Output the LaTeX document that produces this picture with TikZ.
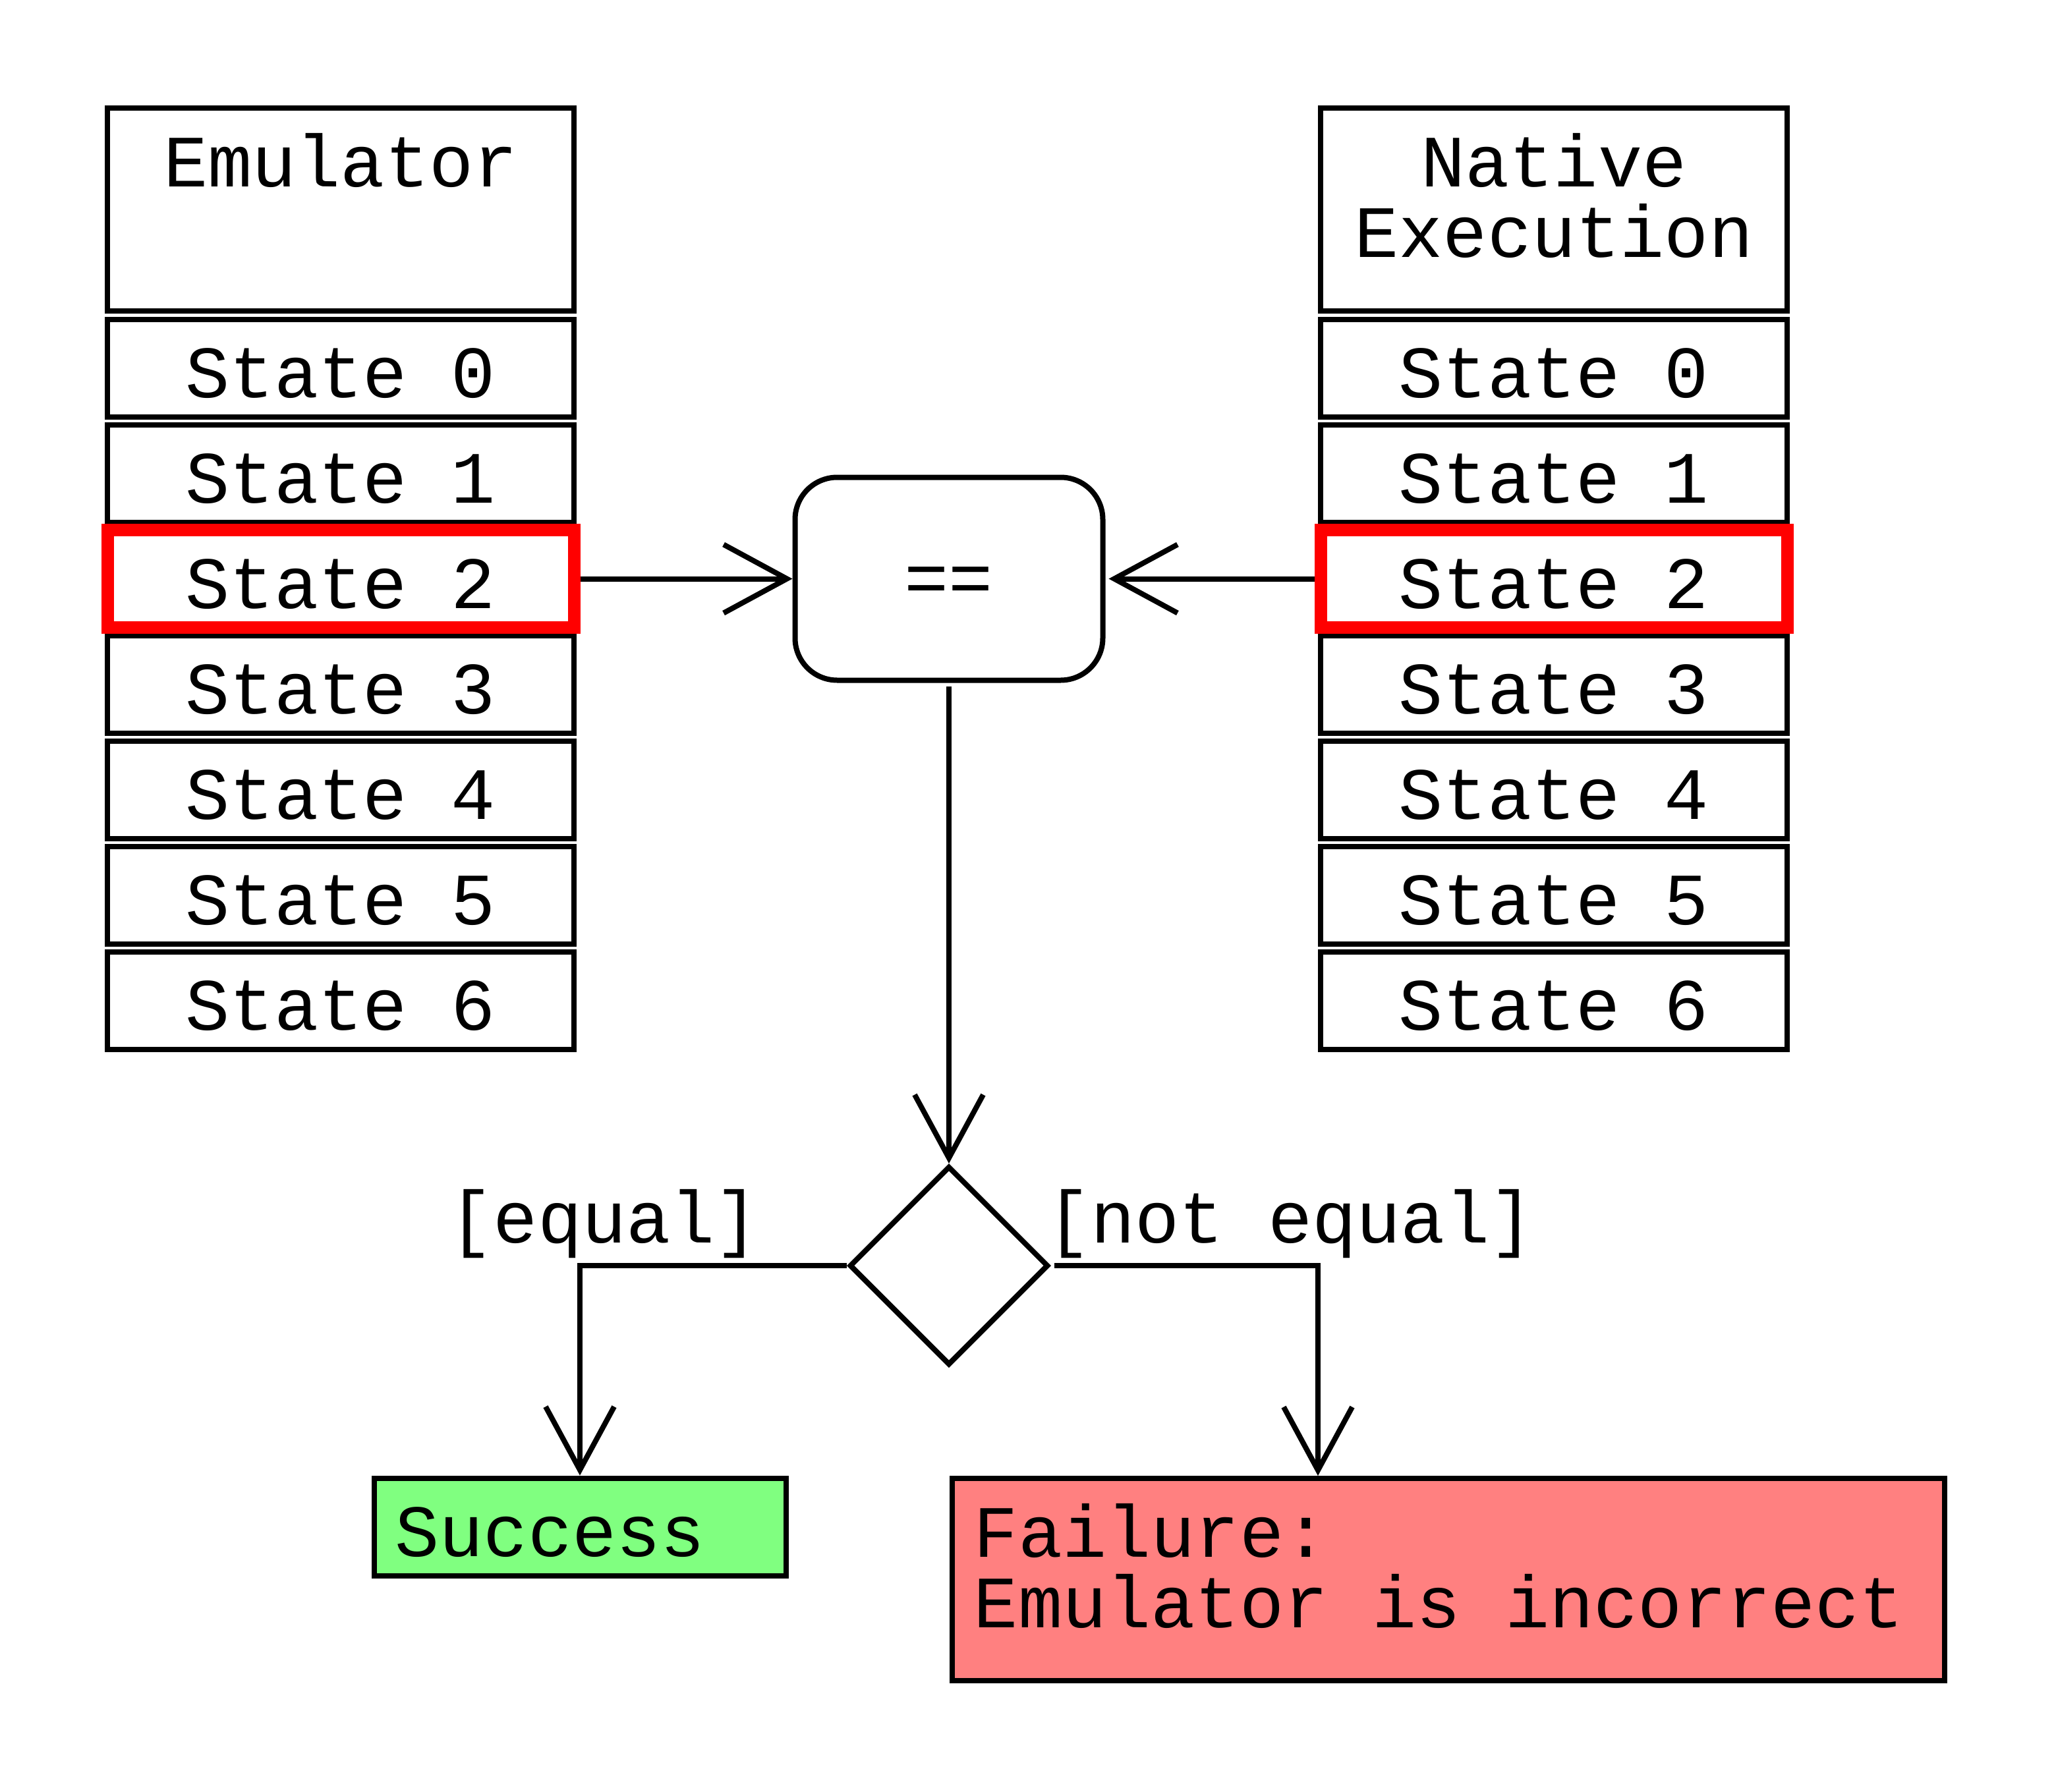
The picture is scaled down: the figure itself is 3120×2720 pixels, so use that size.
\documentclass[tikz,border=0pt]{standalone}
\usepackage{fontspec}
\newfontfamily\monofam{Liberation Mono}
\usetikzlibrary{arrows.meta,shapes.geometric,calc}
\definecolor{succgreen}{HTML}{80FF80}
\definecolor{failred}{HTML}{FF8080}
\begin{document}
\begin{tikzpicture}[x=0.25pt,y=-0.25pt,
  every node/.style={font=\monofam\fontsize{28pt}{26.75pt}\selectfont},
  bx/.style={draw, line width=2pt, fill=white, inner sep=0pt},
  statebox/.style={bx, minimum width=177pt, minimum height=37pt, text height=22.5pt, text depth=0pt},
  hot/.style={draw=red, line width=4.75pt},
  titlebox/.style={bx, minimum width=177pt, minimum height=77pt},
  txt/.style={inner sep=0pt, align=center},
  arr/.style={line width=2pt, -{Straight Barb[length=24pt,width=26pt,sharp]}},
]
\useasboundingbox (0,0) rectangle (3120,2720);

% Emulator column
\node[titlebox] (emu) at (517,318.25) {};
\node[txt, anchor=north] (emut) at ($(emu.north)+(0,33)$) {\rule{0pt}{22.4pt}Emulator};
\foreach \i in {0,1,3,4,5,6}
  \node[statebox] (emu\i) at (517,{558.5+160*\i}) {State \i};
\node[statebox, hot] (emu2) at (517,878.5) {State 2};

% Native column
\node[titlebox] (nat) at (2358,318.25) {};
\node[txt, anchor=north] (natt) at ($(nat.north)+(0,33)$) {\rule{0pt}{22.4pt}Native\\Execution};
\foreach \i in {0,1,3,4,5,6}
  \node[statebox] (nat\i) at (2358,{558.5+160*\i}) {State \i};
\node[statebox, hot] (nat2) at (2358,878.5) {State 2};

% comparison
\node[bx, rounded corners=16pt, minimum width=116.75pt, minimum height=77pt, text height=18.6pt, text depth=0pt] (eq) at (1440,878.5) {==};

% decision
\node[draw, line width=2pt, fill=white, diamond, aspect=1, minimum size=75.5pt, inner sep=0pt] (diam) at (1440,1921) {};

% results
\node[bx, fill=succgreen, minimum width=156.25pt, minimum height=37pt, text width=140.25pt, inner xsep=8pt, align=left, text height=22.5pt, text depth=0pt] (succ) at (880,2317.5) {Success};
\node[bx, fill=failred, minimum width=376.5pt, minimum height=76.75pt] (fail) at (2198,2397.5) {};
\node[txt, align=left, anchor=north west] (failt) at ($(fail.north west)+(36,33)$) {\rule{0pt}{22.4pt}Failure:\\Emulator is incorrect};

% guard labels
\node[anchor=base, inner sep=0pt] (leq) at (917,1886) {[equal]};
\node[anchor=base, inner sep=0pt] (lneq) at (1958,1886) {[not equal]};

% connectors
\draw[arr] (emu2.east) -- (eq.west);
\draw[arr, shorten >=1.25pt] (nat2.west) -- (eq.east);
\draw[arr, shorten <=1.25pt] (eq.south) -- (diam.north);
\draw[arr] (diam.west) -| (succ.north);
\draw[arr, shorten <=1.25pt] (diam.east) -| (fail.north -| nat6.west);
\end{tikzpicture}
\end{document}
